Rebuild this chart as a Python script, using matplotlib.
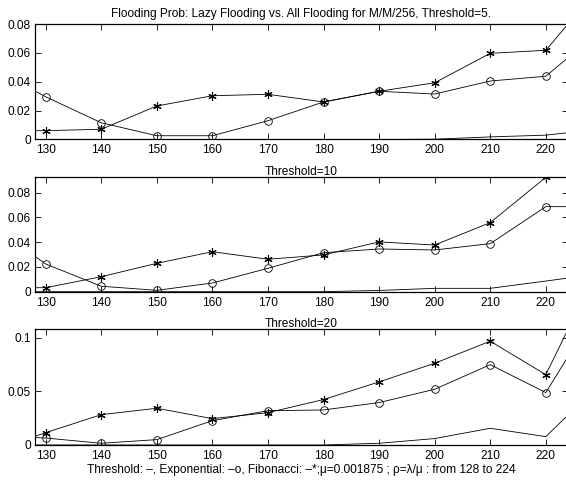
import matplotlib
matplotlib.use("Agg")
import matplotlib.pyplot as plt

plt.rcParams["font.family"] = ["Liberation Sans", "DejaVu Sans"]

# arrival rates (x) -- end points 128/224 carry no marker
x = [128, 130, 140, 150, 160, 170, 180, 190, 200, 210, 220, 224]
xticks = [130, 140, 150, 160, 170, 180, 190, 200, 210, 220]

# Threshold = 5
thr5 = [0, 0, 0, 0, 0, 0, 0, 0, 0.0002, 0.0018, 0.003, 0.0047]
exp5 = [0.0338, 0.0296, 0.0116, 0.0026, 0.0026, 0.013, 0.026, 0.0334, 0.0315, 0.0405, 0.0438, 0.0567]
fib5 = [0.0061, 0.0061, 0.0071, 0.0232, 0.0303, 0.0313, 0.026, 0.0334, 0.0393, 0.0597, 0.0618, 0.08]

# Threshold = 10
thr10 = [0, 0, 0, 0, 0, 0, 0, 0.001, 0.0027, 0.0027, 0.0086, 0.011]
exp10 = [0.0288, 0.0224, 0.0044, 0.0011, 0.007, 0.0189, 0.0315, 0.0345, 0.0337, 0.0388, 0.0687, 0.0687]
fib10 = [0.0032, 0.0032, 0.0121, 0.0229, 0.0323, 0.0262, 0.0297, 0.0402, 0.0377, 0.0558, 0.0924, 0.0924]

# Threshold = 20
thr20 = [0, 0, 0, 0, 0, 0, 0, 0.0016, 0.006, 0.0156, 0.0078, 0.028]
exp20 = [0.007, 0.0065, 0.0016, 0.005, 0.0227, 0.032, 0.0327, 0.0396, 0.052, 0.075, 0.0489, 0.0825]
fib20 = [0.008, 0.0115, 0.0283, 0.0343, 0.0246, 0.0302, 0.0424, 0.0589, 0.0763, 0.0969, 0.0657, 0.108]

panels = [
    ("Flooding Prob: Lazy Flooding vs. All Flooding for M/M/256, Threshold=5.",
     thr5, exp5, fib5, [0, 0.02, 0.04, 0.06, 0.08], ["0", "0.02", "0.04", "0.06", "0.08"], 5.0),
    ("Threshold=10", thr10, exp10, fib10,
     [0, 0.02, 0.04, 0.06, 0.08], ["0", "0.02", "0.04", "0.06", "0.08"], 1.5),
    ("Threshold=20", thr20, exp20, fib20,
     [0, 0.05, 0.1], ["0", "0.05", "0.1"], 1.7),
]

FS = 8.6
fig = plt.figure(figsize=(5.66, 4.83), dpi=100)
bottoms = [0.7112, 0.3961, 0.0787]
heights = [0.2391, 0.2368, 0.2395]

for (title, thr, ex, fb, yt, ytl, tpad), b, h in zip(panels, bottoms, heights):
    ax = fig.add_axes([0.061, b, 0.9426, h])
    mk = slice(1, -1)
    ax.plot(x, thr, "-", color="black", lw=0.6)
    ax.plot(x, ex, "-", color="black", lw=0.6, marker="o", markersize=5.5,
            markerfacecolor="none", markeredgewidth=0.6, markevery=mk)
    ax.plot(x, fb, "-", color="black", lw=0.6, marker=(6, 2, 0), markersize=6,
            markeredgewidth=0.8, markevery=mk)
    ax.set_xlim(128, 224)
    ax.set_ylim(0, max(fb))
    ax.set_xticks(xticks)
    ax.set_xticklabels([str(t) for t in xticks], fontsize=FS)
    ax.set_yticks(yt)
    ax.set_yticklabels(ytl, fontsize=FS)
    ax.tick_params(axis="both", direction="in", length=4, width=0.6,
                   top=True, right=True)
    ax.tick_params(axis="x", pad=3.5)
    ax.tick_params(axis="y", pad=2.5)
    for s in ax.spines.values():
        s.set_linewidth(0.9)
    ax.set_title(title, fontsize=FS, pad=tpad)

ax.set_xlabel("Threshold: \u2013, Exponential: \u2013o, Fibonacci: \u2013*;\u03bc=0.001875 ; "
              "\u03c1=\u03bb/\u03bc : from 128 to 224", fontsize=FS, labelpad=1.5)

fig.savefig("out.png", dpi=100)
